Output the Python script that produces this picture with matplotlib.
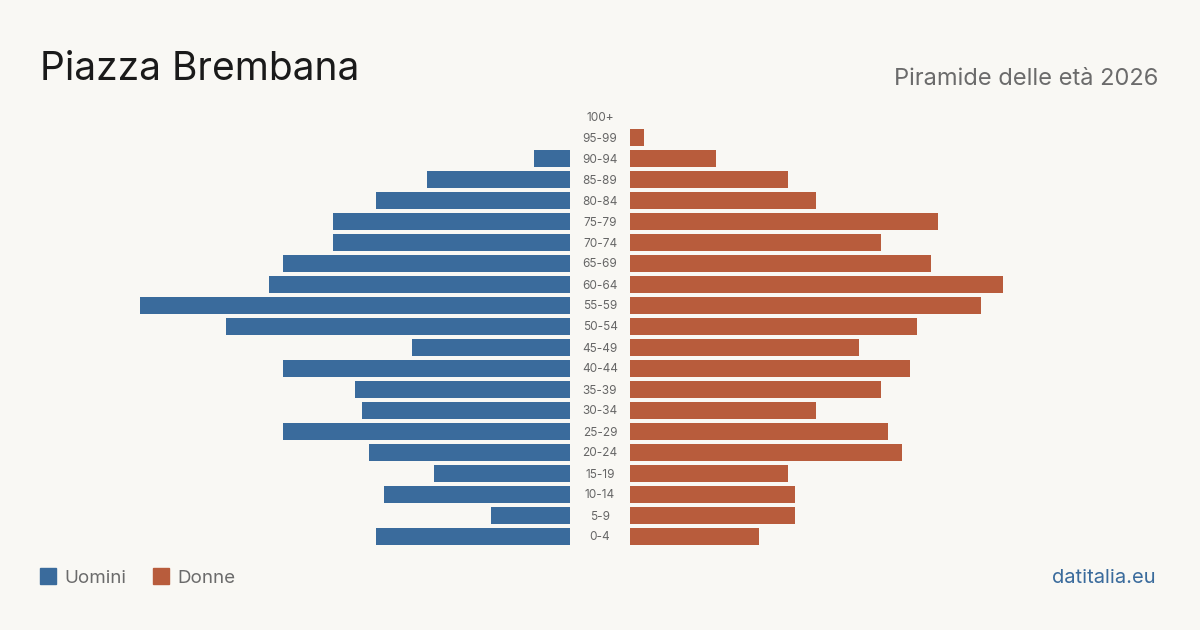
import matplotlib
matplotlib.use("Agg")
import matplotlib.pyplot as plt
import numpy as np

plt.rcParams['font.family'] = ['Inter', 'DejaVu Sans']

classi = ["0-4", "5-9", "10-14", "15-19", "20-24", "25-29", "30-34", "35-39",
          "40-44", "45-49", "50-54", "55-59", "60-64", "65-69", "70-74",
          "75-79", "80-84", "85-89", "90-94", "95-99", "100+"]
uomini = [27, 11, 26, 19, 28, 40, 29, 30, 40, 22, 48, 60, 42, 40, 33, 33, 27, 20, 5, 0, 0]
donne = [18, 23, 23, 22, 38, 36, 26, 35, 39, 32, 40, 49, 52, 42, 35, 43, 26, 22, 12, 2, 0]

bg = "#f9f8f4"
blu = "#3a6b9c"
rosso = "#b85c3c"

W, H = 1200, 630
fig = plt.figure(figsize=(12, 6.3), dpi=100, facecolor=bg)

y = np.arange(len(classi))
bottom = (H - 547) / H
height = 441 / H
ax_l = fig.add_axes([40 / W, bottom, 530 / W, height])
ax_r = fig.add_axes([630 / W, bottom, 530 / W, height])

xmax = 530 / 7.17
ax_l.barh(y, uomini, height=0.81, color=blu)
ax_l.set_xlim(xmax, 0)
ax_r.barh(y, donne, height=0.81, color=rosso)
ax_r.set_xlim(0, xmax)

for ax in (ax_l, ax_r):
    ax.set_ylim(-0.5, len(classi) - 0.5)
    ax.set_facecolor("none")
    ax.axis("off")

for i, lab in enumerate(classi):
    yy = bottom + (i + 0.5) / len(classi) * height
    fig.text(600 / W, yy - 1 / H, lab, ha="center", va="center", fontsize=8.5, color="#666666")

fig.text(40 / W, 1 - 80 / H, "Piazza Brembana", fontsize=28, color="#1a1a1a",
         ha="left", va="baseline")
fig.text(1158 / W, 1 - 85 / H, "Piramide delle età 2026", fontsize=17, color="#6b6b6b",
         ha="right", va="baseline")

# legenda
fig.patches.append(plt.Rectangle((40 / W, 1 - 584 / H), 16 / W, 16 / H,
                                 transform=fig.transFigure, color=blu))
fig.text(64 / W, 1 - 583 / H, "Uomini", fontsize=13.5, color="#6b6b6b", va="baseline")
fig.patches.append(plt.Rectangle((153 / W, 1 - 584 / H), 16 / W, 16 / H,
                                 transform=fig.transFigure, color=rosso))
fig.text(177 / W, 1 - 583 / H, "Donne", fontsize=13.5, color="#6b6b6b", va="baseline")

fig.text(1156 / W, 1 - 583 / H, "datitalia.eu", fontsize=14.5, color=blu,
         ha="right", va="baseline")

fig.savefig("out.png", dpi=100, facecolor=bg)
